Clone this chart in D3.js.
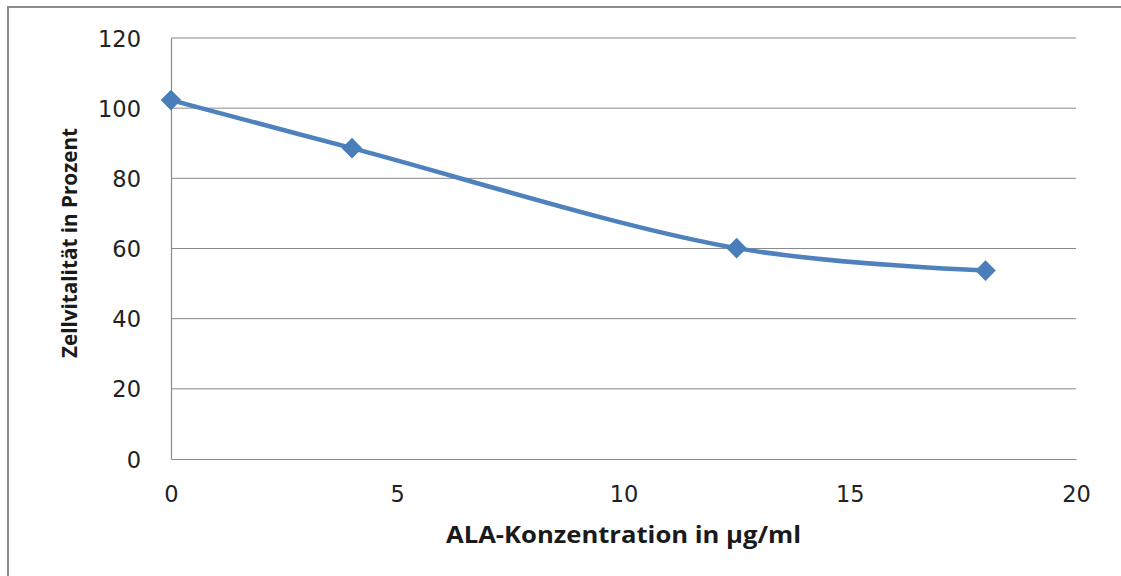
<!DOCTYPE html>
<html>
<head>
<meta charset="utf-8">
<script src="https://cdn.jsdelivr.net/npm/d3@7"></script>
<style>
  html, body { margin: 0; padding: 0; background: #fff; }
  svg { display: block; }
</style>
</head>
<body>
<svg id="chart" width="1121" height="576"></svg>
<script>
// ALA concentration (µg/ml) vs. cell viability (%)
const concentrations = [0, 4, 12.5, 18];
const viability = [102.3, 88.6, 60.1, 53.7];
const xTicks = [0, 5, 10, 15, 20];
const yTicks = [0, 20, 40, 60, 80, 100, 120];
const xTitle = "ALA-Konzentration in µg/ml";
const yTitle = "Zellvitalität in Prozent";

const svg = d3.select("#chart");
const W = 1121, H = 576;
const plot = { left: 171, right: 1076, top: 38, bottom: 459 };

// outer frame (open to the right and bottom edges)
svg.append("rect")
  .attr("x", 8).attr("y", 7)
  .attr("width", W).attr("height", H)
  .attr("fill", "none")
  .attr("stroke", "#8c8c8c")
  .attr("stroke-width", 2);

const x = d3.scaleLinear().domain([0, 20]).range([plot.left, plot.right]);
const y = d3.scaleLinear().domain([0, 120]).range([plot.bottom, plot.top]);

// horizontal gridlines
svg.append("g")
  .selectAll("line")
  .data(yTicks.filter(d => d > 0))
  .join("line")
  .attr("x1", plot.left).attr("x2", plot.right)
  .attr("y1", d => y(d)).attr("y2", d => y(d))
  .attr("stroke", "#8a8a8a")
  .attr("stroke-width", 1);

// axes
const xAxis = d3.axisBottom(x).tickValues(xTicks).tickSize(0).tickPadding(27);
const yAxis = d3.axisLeft(y).tickValues(yTicks).tickSize(0).tickPadding(30);

const gx = svg.append("g").attr("transform", `translate(0,${plot.bottom})`).call(xAxis);
const gy = svg.append("g").attr("transform", `translate(${plot.left},0)`).call(yAxis);

[gx, gy].forEach(g => {
  g.select(".domain").attr("stroke", "#8a8a8a").attr("stroke-width", 1.2);
  g.selectAll("text")
    .attr("font-family", "'DejaVu Sans', Verdana, sans-serif")
    .attr("font-size", 22.5)
    .attr("fill", "#222");
});
gy.selectAll("text").attr("dy", "0.36em");

// axis titles
svg.append("text")
  .attr("x", (plot.left + plot.right) / 2)
  .attr("y", 543)
  .attr("text-anchor", "middle")
  .attr("font-family", "'Open Sans', sans-serif")
  .attr("font-weight", "bold")
  .attr("font-size", 23)
  .attr("textLength", 355)
  .attr("lengthAdjust", "spacingAndGlyphs")
  .attr("fill", "#1a1a1a")
  .text(xTitle);

svg.append("text")
  .attr("transform", "translate(77,243) rotate(-90)")
  .attr("text-anchor", "middle")
  .attr("font-family", "'Open Sans', sans-serif")
  .attr("font-weight", "bold")
  .attr("font-size", 22)
  .attr("textLength", 230)
  .attr("lengthAdjust", "spacingAndGlyphs")
  .attr("fill", "#1a1a1a")
  .text(yTitle);

// smoothed series line
const pts = concentrations.map((c, i) => [c, viability[i]]);
const line = d3.line()
  .x(d => x(d[0]))
  .y(d => y(d[1]))
  .curve(d3.curveCatmullRom.alpha(0.5));

svg.append("path")
  .datum(pts)
  .attr("d", line)
  .attr("fill", "none")
  .attr("stroke", "#4f81bd")
  .attr("stroke-width", 4.5)
  .attr("stroke-linecap", "round");

// diamond markers
const diamond = d3.symbol().type(d3.symbolDiamond2).size(270);
svg.append("g")
  .selectAll("path")
  .data(pts)
  .join("path")
  .attr("transform", d => `translate(${x(d[0])},${y(d[1])})`)
  .attr("d", diamond)
  .attr("fill", "#4a7ebb");
</script>
</body>
</html>
